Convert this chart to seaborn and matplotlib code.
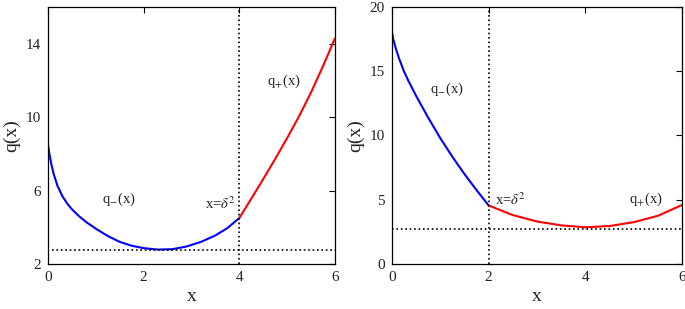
import numpy as np
import pandas as pd
import matplotlib
matplotlib.use("Agg")
import matplotlib.pyplot as plt
import seaborn as sns

# left panel (delta^2 = 4)
left_minus_x = [0, 0.03, 0.07, 0.12, 0.2, 0.3, 0.4, 0.5, 0.65, 0.8, 1.0, 1.25, 1.5, 1.75,
                2.0, 2.3, 2.6, 2.9, 3.2, 3.5, 3.75, 4.0]
left_minus_q = [8.5, 8.0, 7.45, 6.9, 6.25, 5.7, 5.3, 4.98, 4.6, 4.28, 3.92, 3.52, 3.2, 2.99,
                2.86, 2.78, 2.8, 2.95, 3.2, 3.55, 3.95, 4.5]
left_plus_x = [4.0, 4.25, 4.5, 4.75, 5.0, 5.25, 5.5, 5.75, 6.0]
left_plus_q = [4.5, 5.55, 6.62, 7.72, 8.86, 10.05, 11.35, 12.78, 14.3]

# right panel (delta^2 = 2)
right_minus_x = [0, 0.03, 0.08, 0.15, 0.25, 0.35, 0.5, 0.75, 1.0, 1.25, 1.5, 1.75, 2.0]
right_minus_q = [18.1, 17.5, 16.8, 16.0, 15.0, 14.2, 13.1, 11.4, 9.8, 8.35, 7.0, 5.75, 4.55]
right_plus_x = [2.0, 2.5, 3.0, 3.5, 4.0, 4.5, 5.0, 5.5, 6.0]
right_plus_q = [4.55, 3.8, 3.3, 3.0, 2.85, 2.95, 3.25, 3.75, 4.6]

q_min = 2.73

sns.set_theme(style="white")
plt.rcParams['font.family'] = ['Liberation Serif', 'DejaVu Serif']
plt.rcParams['mathtext.fontset'] = 'stix'

fig = plt.figure(figsize=(6.85, 3.09), dpi=100)
ax1 = fig.add_axes([0.070, 0.146, 0.419, 0.831])
ax2 = fig.add_axes([0.572, 0.146, 0.424, 0.831])

panels = [
    (ax1, left_minus_x, left_minus_q, left_plus_x, left_plus_q, 4, (2, 16), [2, 6, 10, 14], 0.015,
     [(1.12, 5.5, r'q$_{-}$(x)'), (3.28, 5.3, r'x=$\delta^2$'), (4.57, 11.95, r'q$_{+}$(x)')]),
    (ax2, right_minus_x, right_minus_q, right_plus_x, right_plus_q, 2, (0, 20), [0, 5, 10, 15, 20], 0.0,
     [(0.78, 13.6, r'q$_{-}$(x)'), (2.13, 5.0, r'x=$\delta^2$'), (4.91, 5.0, r'q$_{+}$(x)')]),
]

for ax, mx, mq, px, pq, xd, ylim, yticks, hstart, labels in panels:
    sns.lineplot(x=mx, y=mq, ax=ax, color='blue', lw=1.5)
    sns.lineplot(x=px, y=pq, ax=ax, color='red', lw=1.5)
    ax.axvline(xd, color='black', ls=':', lw=1.2)
    ax.axhline(q_min, xmin=hstart, xmax=1.0, color='black', ls=':', lw=1.2)
    ax.set_xlim(0, 6)
    ax.set_ylim(*ylim)
    ax.set_xticks([0, 2, 4, 6])
    ax.set_yticks(yticks)
    ax.tick_params(direction='in', top=True, right=True, length=4, width=0.8,
                   labelsize=11, color='black', labelcolor='#222222', pad=5)
    for s in ax.spines.values():
        s.set_color('black')
        s.set_linewidth(0.9)
    ax.set_xlabel('x', fontsize=14, labelpad=3, color='#222222')
    ax.set_ylabel('q(x)', fontsize=14, labelpad=4, color='#222222')
    for tx, ty, t in labels:
        ax.text(tx, ty, t, fontsize=10.5, ha='left', va='center', color='#222222')

fig.savefig('out.png', dpi=100)
